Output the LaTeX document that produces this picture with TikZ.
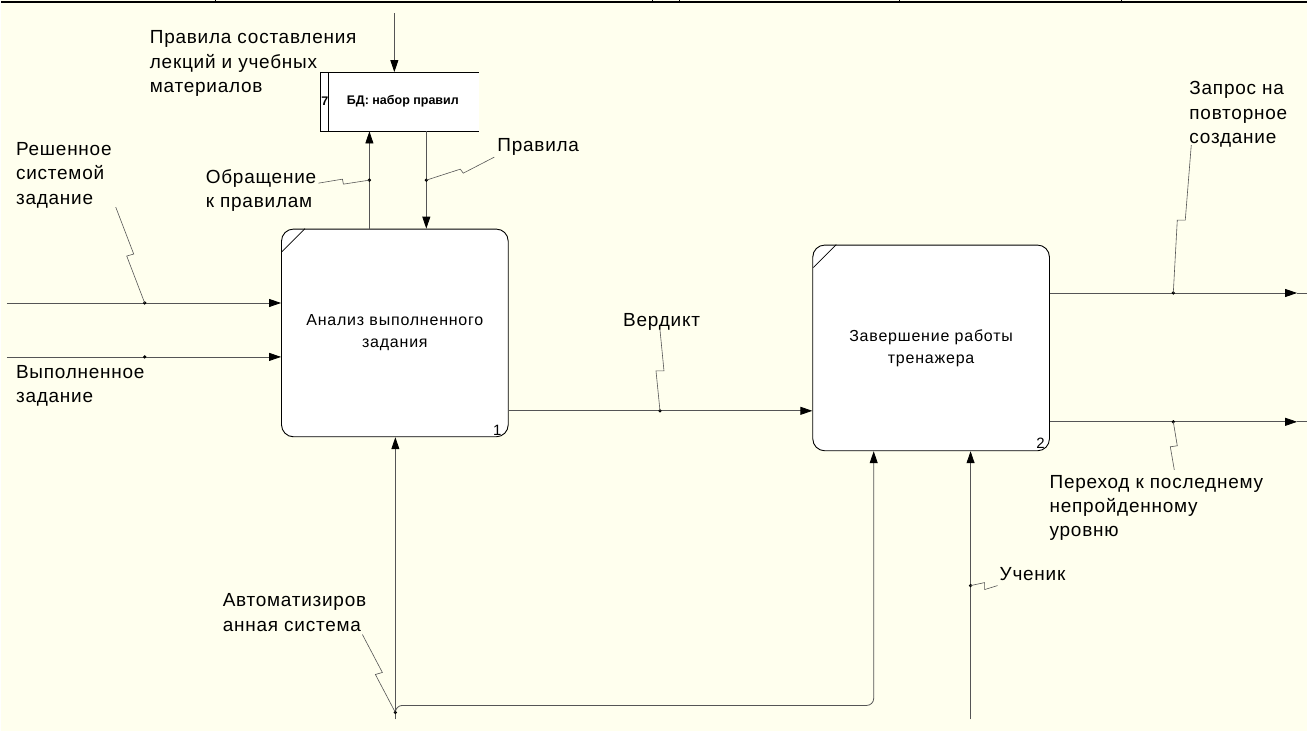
\documentclass[tikz,border=0pt]{standalone}
\usepackage{fontspec}
\setmainfont{Liberation Sans}
\newfontfamily\lblfont[LetterSpace=4]{Liberation Sans}
\newfontfamily\funcfont[LetterSpace=5]{Liberation Sans}
\usetikzlibrary{arrows.meta, calc}

\definecolor{paper}{HTML}{FFFFEE}
\definecolor{linegray}{HTML}{555555}

\tikzset{
  func/.style={draw=black, fill=white, line width=0.9pt, rounded corners=12pt,
    align=center, inner sep=0pt, font=\funcfont\fontsize{16}{22}\selectfont},
  num/.style={anchor=south east, inner sep=0pt, font=\fontsize{15}{15}\selectfont},
  lbl/.style={anchor=north west, inner sep=0pt, align=left,
    font=\lblfont\fontsize{19}{24.5}\selectfont},
  flow/.style={draw=linegray, line width=0.8pt,
    -{Triangle[length=12pt,width=8pt,color=black]}},
  wireline/.style={draw=linegray, line width=0.8pt},
  zig/.style={draw=linegray, line width=0.6pt}
}

\begin{document}
\begin{tikzpicture}[x=1pt, y=-1pt]
    % Background and top frame
    \fill[paper] (0,0) rectangle (1308,732);
    \draw[line width=1.8pt] (0,2) -- (1308,2);
    \foreach \tx in {215,652,679,900,1122}
        \draw[line width=0.8pt] (\tx,0) -- (\tx,2);
    % Functions
    \node[func, minimum width=227pt, minimum height=208pt] (box1) at (394.5,333)
        {Анализ выполненного\\задания};
    \node[func, minimum width=237pt, minimum height=206pt] (box2) at (931.5,348)
        {Завершение работы\\тренажера};
    \draw[line width=0.6pt] ($(box1.north west)+(1,23)$) -- ($(box1.north west)+(24,0)$);
    \draw[line width=0.6pt] ($(box2.north west)+(1,23)$) -- ($(box2.north west)+(24,0)$);
    \node[num] (num1) at ($(box1.south east)+(-7,-2)$) {1};
    \node[num] (num2) at ($(box2.south east)+(-5,-3)$) {2};
    % Data store
    \node[minimum width=158pt, minimum height=59pt, fill=white, inner sep=0pt] (db) at (399.5,101.5) {};
    \draw[line width=0.8pt] (db.north east) -- (db.north west) -- (db.south west) -- (db.south east);
    \draw[line width=0.8pt] ($(db.north west)+(8,0)$) -- ($(db.south west)+(8,0)$);
    \node[inner sep=0pt, font=\bfseries\fontsize{12.5}{12.5}\selectfont] (dbnum) at ($(db.west)+(4,-1)$) {7};
    \node[inner sep=0pt, font=\bfseries\fontsize{12.5}{12.5}\selectfont] (dbname) at ($(db.center)+(3,-1)$) {БД: набор правил};
    % Arrow end points and label dots
    \coordinate (srcRules) at (394,13);
    \coordinate (dCall) at (369,180);
    \coordinate (dRules) at (426,180);
    \coordinate (inSolved) at (6,303);
    \coordinate (dSolved) at (144,303);
    \coordinate (inDone) at (6,357);
    \coordinate (dDone) at (144,357);
    \coordinate (dVerdict) at (660,411);
    \coordinate (outReq) at (1298,293);
    \coordinate (dReq) at (1174,293);
    \coordinate (outLast) at (1298,422);
    \coordinate (dLast) at (1174,422);
    \coordinate (mSys) at (395,720);
    \coordinate (dSys) at (395,713);
    \coordinate (mSys2) at (874,706);
    \coordinate (mPupil) at (971,720);
    \coordinate (dPupil) at (971,586);
    % Controls
    \draw[flow] (srcRules) -- (srcRules |- db.north);
    \draw[flow] (dCall |- box1.north) -- (dCall |- db.south);
    \draw[flow] (dRules |- db.south) -- (dRules |- box1.north);
    % Inputs
    \draw[flow] (inSolved) -- (inSolved -| box1.west);
    \draw[flow] (inDone) -- (inDone -| box1.west);
    \draw[flow] (box1.east |- dVerdict) -- (box2.west |- dVerdict);
    % Outputs
    \draw[flow] (box2.east |- outReq) -- (outReq);
    \draw[wireline] (outReq) -- ++(10,0);
    \draw[flow] (box2.east |- outLast) -- (outLast);
    \draw[wireline] (outLast) -- ++(10,0);
    % Mechanisms
    \draw[flow] (mSys) -- (mSys |- box1.south);
    \draw[flow, rounded corners=7pt] (dSys) |- (mSys2) -- (mSys2 |- box2.south);
    \draw[flow] (mPupil) -- (mPupil |- box2.south);
    % Dots
    \foreach \d in {dCall,dRules,dSolved,dDone,dVerdict,dReq,dLast,dSys,dPupil}
        \fill (\d) circle (1.8pt);
    % Labels
    \node[lbl] (lRulesSrc) at (149,30) {Правила составления\\лекций и учебных\\материалов};
    \node[lbl] (lCall) at (205,169) {Обращение\\к правилам};
    \node[lbl] (lRules) at (497,138) {Правила};
    \node[lbl] (lSolved) at (15,142) {Решенное\\системой\\задание};
    \node[lbl] (lDone) at (15,365) {Выполненное\\задание};
    \node[lbl] (lVerdict) at (623,313) {Вердикт};
    \node[lbl] (lReq) at (1190,81) {Запрос на\\повторное\\создание};
    \node[lbl] (lLast) at (1050,475) {Переход к последнему\\непройденному\\уровню};
    \node[lbl] (lPupil) at (1000,568) {Ученик};
    \node[lbl] (lSys) at (222,594) {Автоматизиров\\анная система};
    % Label squiggles
    \draw[zig] (dSolved) -- ++(-18,-47) -- ++(7,-2) -- ++(-18,-47);
    \draw[zig] (dCall) -- ++(-26,4) -- ++(-1,-5) -- ++(-24,4);
    \draw[zig] (dRules) -- ++(34,-11) -- ++(3,4) -- ++(31,-16);
    \draw[zig] (dVerdict) -- ++(-4,-40) -- ++(8,0) -- ++(-4,-41);
    \draw[zig] (dReq) -- ++(4,-73) -- ++(8,0) -- ++(6,-75);
    \draw[zig] (dLast) -- ++(4,24) -- ++(-7,1) -- ++(4,23);
    \draw[zig] (dPupil) -- ++(14,-3) -- ++(0,7) -- ++(13,-4);
    \draw[zig] (dSys) -- ++(-20,-38) -- ++(7,-2) -- ++(-20,-38);
\end{tikzpicture}
\end{document}
